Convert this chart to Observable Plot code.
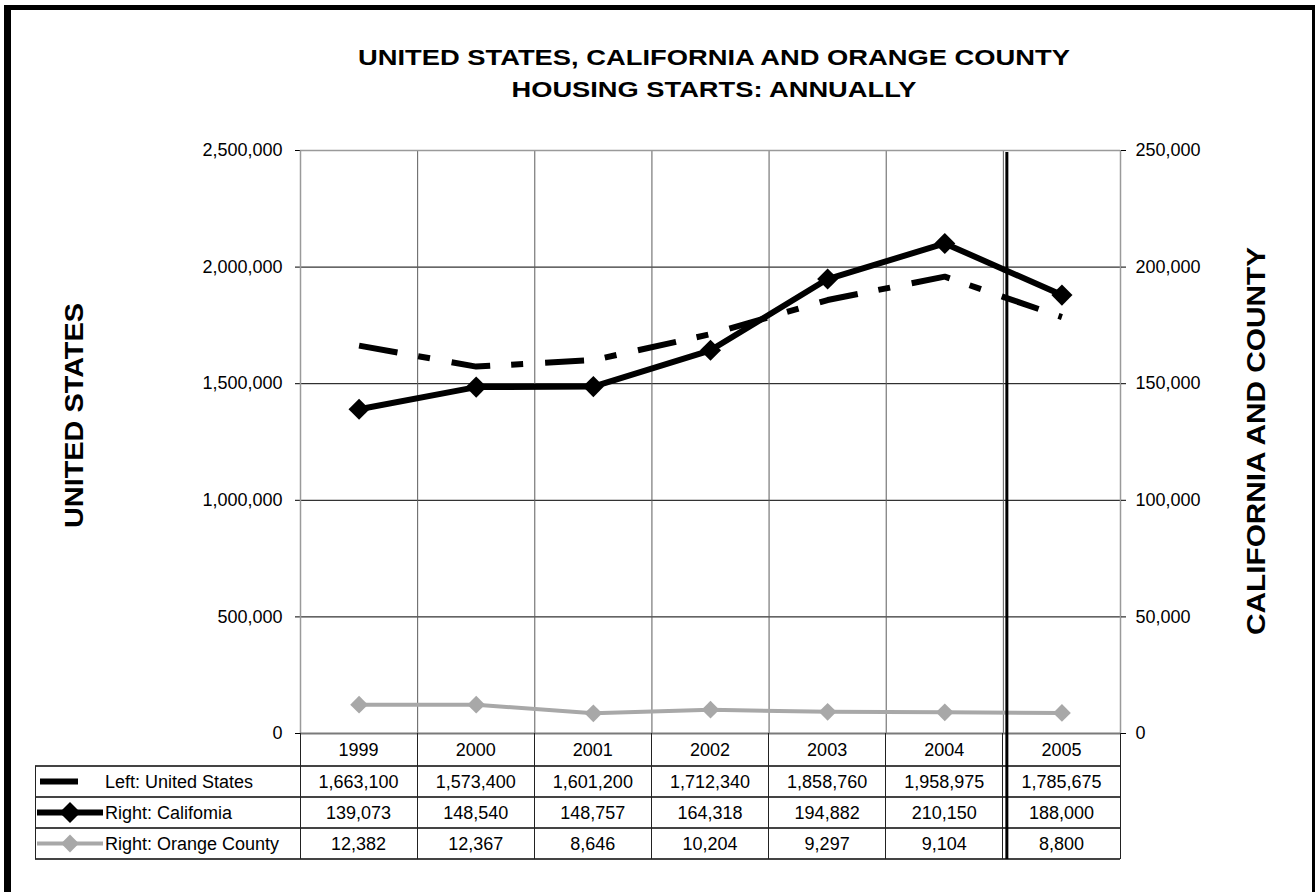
<!DOCTYPE html>
<html>
<head>
<meta charset="utf-8">
<script src="https://cdn.jsdelivr.net/npm/d3@7"></script>
<script src="https://cdn.jsdelivr.net/npm/@observablehq/plot@0.6"></script>
<style>
  body { margin: 0; background: #fff; }
  #wrap { position: relative; width: 1315px; height: 892px; overflow: hidden; background: #fff;
          font-family: Arial, "Liberation Sans", Helvetica, sans-serif; }
  #frame { position: absolute; left: 4px; top: 5px; width: 1301px; height: 900px;
           border-left: 7px solid #000; border-top: 5px solid #000; border-right: 3px solid #000; }
  svg.overlay { position: absolute; left: 0; top: 0; }
</style>
</head>
<body>
<div id="wrap"><div id="frame"></div></div>
<script>
// ---------------- data ----------------
const years = ["1999", "2000", "2001", "2002", "2003", "2004", "2005"];
const usStarts = [1663100, 1573400, 1601200, 1712340, 1858760, 1958975, 1785675];
const caStarts = [139073, 148540, 148757, 164318, 194882, 210150, 188000];
const ocStarts = [12382, 12367, 8646, 10204, 9297, 9104, 8800];
const leftTicks = [0, 500000, 1000000, 1500000, 2000000, 2500000];
const rightTicks = [0, 50000, 100000, 150000, 200000, 250000];
const seriesNames = ["Left: United States", "Right: Califomia", "Right: Orange County"];
const titleLines = ["UNITED STATES, CALIFORNIA AND ORANGE COUNTY", "HOUSING STARTS: ANNUALLY"];
const leftAxisTitle = "UNITED STATES";
const rightAxisTitle = "CALIFORNIA AND COUNTY";

// ---------------- layout ----------------
const W = 1315, H = 892;
const M = {top: 150, right: 195, bottom: 159, left: 300};
const FONT = "Arial, 'Liberation Sans', Helvetica, sans-serif";
const fmt = d3.format(",");
const idx = years.map((_, i) => i);
const edges = d3.range(years.length + 1).map(i => i - 0.5); // category boundaries
const usData = idx.map(i => ({i, v: usStarts[i]}));
const caData = idx.map(i => ({i, v: caStarts[i]}));
const ocData = idx.map(i => ({i, v: ocStarts[i]}));

const common = {
  width: W, height: H,
  marginTop: M.top, marginRight: M.right, marginBottom: M.bottom, marginLeft: M.left,
  x: {domain: [edges[0], edges[edges.length - 1]], axis: null},
  style: {fontFamily: FONT, fontSize: "18px", color: "#000", background: "transparent",
          position: "absolute", left: "0px", top: "0px", overflow: "visible"}
};

// Left-axis chart (United States)
const chartL = Plot.plot({
  ...common,
  y: {domain: [0, leftTicks[leftTicks.length - 1]], ticks: leftTicks, tickFormat: fmt,
      tickSize: 5, tickPadding: 13, label: null},
  marks: [
    Plot.ruleY(leftTicks.slice(1, -1), {stroke: "#000", strokeWidth: 1}),
    Plot.ruleX(edges.slice(1, -1), {stroke: "#5c5c5c", strokeWidth: 1}),
    Plot.ruleX([edges[0], edges[edges.length - 1]], {stroke: "#9a9a9a", strokeWidth: 1.5}),
    Plot.ruleY([leftTicks[leftTicks.length - 1]], {stroke: "#9a9a9a", strokeWidth: 1.5}),
    Plot.ruleY([0], {stroke: "#7a7a7a", strokeWidth: 2}),
    Plot.line(usData, {x: "i", y: "v", stroke: "#000", strokeWidth: 6,
      strokeDasharray: "39,21,12,22", strokeLinecap: "butt", strokeLinejoin: "miter"})
  ]
});

// Right-axis chart (California and Orange County)
const chartR = Plot.plot({
  ...common,
  y: {domain: [0, rightTicks[rightTicks.length - 1]], axis: "right", ticks: rightTicks, tickFormat: fmt,
      tickSize: 5, tickPadding: 10, label: null},
  marks: [
    Plot.line(ocData, {x: "i", y: "v", stroke: "#a8a8a8", strokeWidth: 4}),
    Plot.dot(ocData, {x: "i", y: "v", symbol: "diamond2", r: 8, fill: "#a8a8a8", stroke: "none"}),
    Plot.line(caData, {x: "i", y: "v", stroke: "#000", strokeWidth: 6}),
    Plot.dot(caData, {x: "i", y: "v", symbol: "diamond2", r: 9.5, fill: "#000", stroke: "none"})
  ]
});

const wrap = document.getElementById("wrap");
wrap.appendChild(chartL);
wrap.appendChild(chartR);

// ---------------- title, axis titles, data table ----------------
const xs = chartL.scale("x"), ys = chartL.scale("y");
const X = v => xs.apply(v);
const Y = v => ys.apply(v);
const top0 = Y(0);
const headerH = 33, rowH = 31;
const rowTops = d3.range(seriesNames.length + 1).map(k => top0 + headerH + k * rowH);
const tableBottom = rowTops[rowTops.length - 1];
const legendLeft = 35;
const xRight = X(edges[edges.length - 1]);

const svg = d3.select(wrap).append("svg").attr("class", "overlay")
  .attr("width", W).attr("height", H)
  .style("font-family", FONT);

// titles
const titleX = 714;
const titleBase = [65, 97];
const titleLen = [712, 405];
titleLines.forEach((t, k) => {
  svg.append("text").attr("x", titleX).attr("y", titleBase[k])
    .attr("text-anchor", "middle").attr("font-size", 22).attr("font-weight", "bold")
    .attr("textLength", titleLen[k]).attr("lengthAdjust", "spacingAndGlyphs")
    .text(t);
});

// axis titles
svg.append("text").attr("transform", "translate(83,415.5) rotate(-90)")
  .attr("text-anchor", "middle").attr("font-size", 25).attr("font-weight", "bold")
  .attr("textLength", 225).attr("lengthAdjust", "spacingAndGlyphs").text(leftAxisTitle);
svg.append("text").attr("transform", "translate(1265,441) rotate(-90)")
  .attr("text-anchor", "middle").attr("font-size", 25).attr("font-weight", "bold")
  .attr("textLength", 388).attr("lengthAdjust", "spacingAndGlyphs").text(rightAxisTitle);

// table lines
const g = svg.append("g").attr("shape-rendering", "crispEdges");
rowTops.forEach(y => {
  g.append("line").attr("x1", legendLeft).attr("x2", xRight).attr("y1", y).attr("y2", y)
    .attr("stroke", "#444").attr("stroke-width", 1.2);
});
edges.forEach(e => {
  g.append("line").attr("x1", X(e)).attr("x2", X(e)).attr("y1", top0).attr("y2", tableBottom)
    .attr("stroke", "#222").attr("stroke-width", 1);
});
g.append("line").attr("x1", legendLeft).attr("x2", legendLeft).attr("y1", rowTops[0]).attr("y2", tableBottom)
  .attr("stroke", "#222").attr("stroke-width", 1);

// thick divider between 2004 and 2005
const divX = X(edges[edges.length - 2]) + 4;
svg.append("line").attr("x1", divX).attr("x2", divX).attr("y1", Y(leftTicks[leftTicks.length - 1]) + 2)
  .attr("y2", tableBottom).attr("stroke", "#000").attr("stroke-width", 3);

// year header
years.forEach((yr, i) => {
  svg.append("text").attr("x", X(i)).attr("y", top0 + headerH / 2).attr("dy", "0.36em")
    .attr("text-anchor", "middle").attr("font-size", 18).text(yr);
});

// values
const rows = [usStarts, caStarts, ocStarts];
rows.forEach((vals, r) => {
  const cy = rowTops[r] + rowH / 2;
  vals.forEach((v, i) => {
    svg.append("text").attr("x", X(i)).attr("y", cy).attr("dy", "0.36em")
      .attr("text-anchor", "middle").attr("font-size", 18).text(fmt(v));
  });
  svg.append("text").attr("x", 105).attr("y", cy).attr("dy", "0.36em")
    .attr("font-size", 18).text(seriesNames[r]);
});

// legend keys
const cy0 = rowTops[0] + rowH / 2, cy1 = rowTops[1] + rowH / 2, cy2 = rowTops[2] + rowH / 2;
svg.append("line").attr("x1", 40).attr("x2", 78).attr("y1", cy0).attr("y2", cy0)
  .attr("stroke", "#000").attr("stroke-width", 6);
svg.append("line").attr("x1", 37).attr("x2", 103).attr("y1", cy1).attr("y2", cy1)
  .attr("stroke", "#000").attr("stroke-width", 6);
svg.append("path").attr("transform", `translate(70,${cy1})`)
  .attr("d", d3.symbol(d3.symbolDiamond2, Math.PI * 9.5 * 9.5)()).attr("fill", "#000");
svg.append("line").attr("x1", 37).attr("x2", 103).attr("y1", cy2).attr("y2", cy2)
  .attr("stroke", "#a8a8a8").attr("stroke-width", 4);
svg.append("path").attr("transform", `translate(70,${cy2})`)
  .attr("d", d3.symbol(d3.symbolDiamond2, Math.PI * 8 * 8)()).attr("fill", "#a8a8a8");
</script>
</body>
</html>
